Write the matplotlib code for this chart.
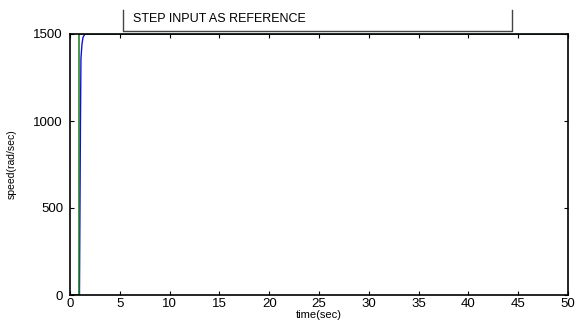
import matplotlib.pyplot as plt
from matplotlib.lines import Line2D

plt.rcParams['font.family'] = ['Liberation Sans', 'DejaVu Sans']

# reference step and motor speed response
t_ref = [0, 0.9, 0.9, 50]
w_ref = [0, 0, 1500, 1500]
t_speed = [0, 0.95, 1.0, 1.05, 1.1, 1.2, 1.3, 1.5, 50]
w_speed = [0, 0, 500, 1000, 1360, 1440, 1480, 1500, 1500]

xticks = list(range(0, 51, 5))
yticks = [0, 500, 1000, 1500]

fig = plt.figure(figsize=(5.77, 3.21), dpi=100)
ax = fig.add_axes([70 / 577, 1 - 295 / 321, 498 / 577, 261 / 321])
ax.plot(t_speed, w_speed, color='#1010e0', lw=1.0)
ax.plot(t_ref, w_ref, color='#1a7a1a', lw=1.3, alpha=0.85)
ax.set_xlim(0, 50)
ax.set_ylim(0, 1500)
ax.set_xticks(xticks)
ax.set_yticks(yticks)
ax.tick_params(direction='in', length=3, width=0.8, labelsize=9.5,
               top=True, right=True)
ax.tick_params(axis='x', pad=2)
ax.tick_params(axis='y', pad=5)
for s in ax.spines.values():
    s.set_linewidth(1.2)
ax.set_xlabel('time(sec)', fontsize=8, labelpad=0)
ax.set_ylabel('speed(rad/sec)', fontsize=7.5, labelpad=12)

# caption box above the plot
W, H = 577, 321
fig.add_artist(Line2D([123 / W, 123 / W, 512 / W, 512 / W],
                      [1 - 10 / H, 1 - 31 / H, 1 - 31 / H, 1 - 10 / H],
                      color='#444444', lw=1.0))
fig.text(133 / W, 1 - 19 / H, 'STEP INPUT AS REFERENCE', fontsize=9,
         va='center', ha='left')

fig.savefig('out.png', dpi=100)
